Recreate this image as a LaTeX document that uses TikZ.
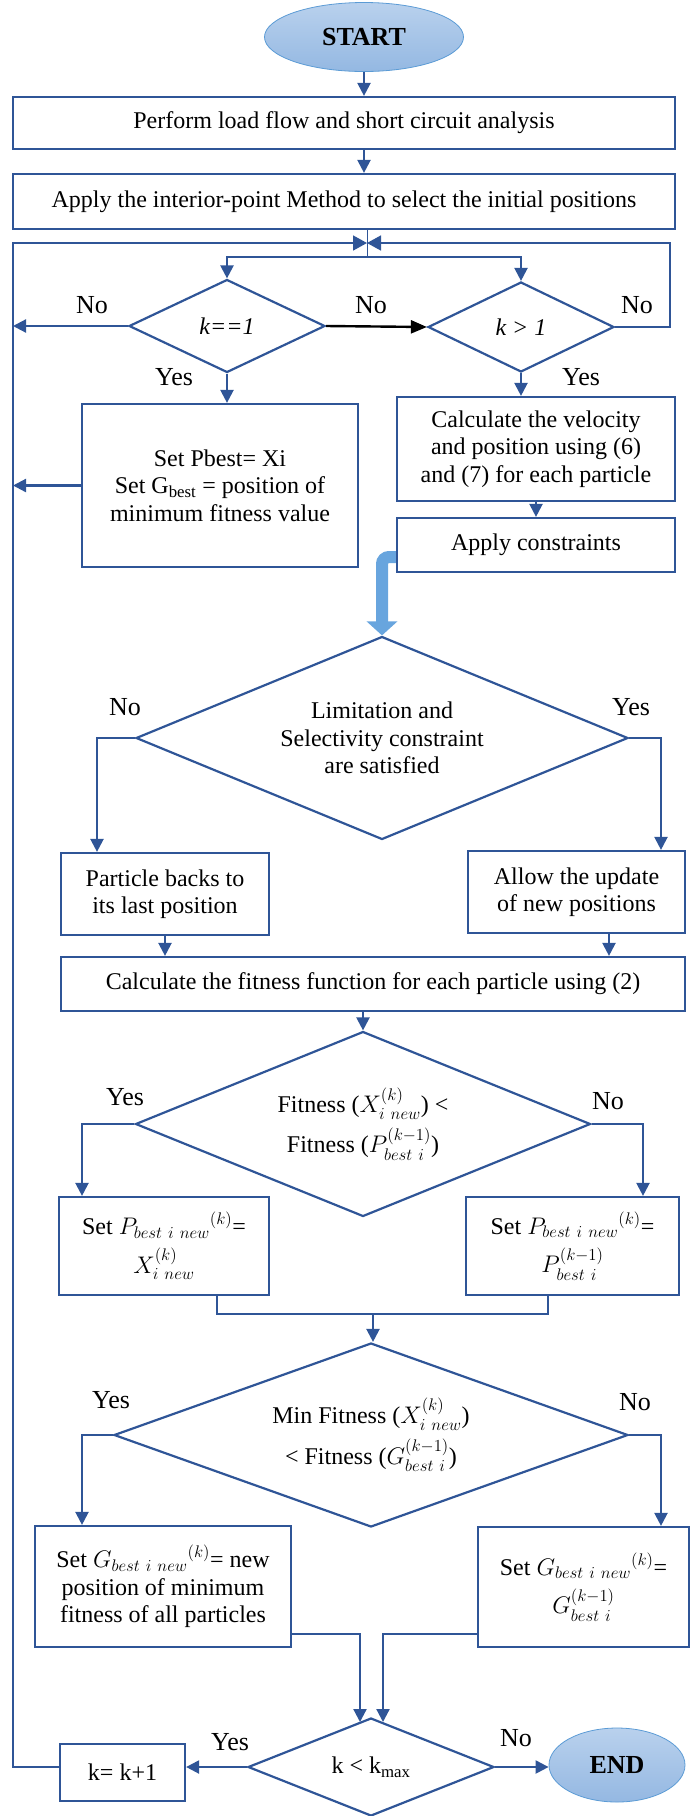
\RequirePackage{fix-cm}
\documentclass[tikz,border=0pt]{standalone}
\usepackage{amsmath}
\usepackage{fontspec}
\setmainfont{Liberation Serif}
\usetikzlibrary{arrows.meta,shapes.geometric}

\definecolor{flowblue}{RGB}{47,85,151}
\definecolor{termedge}{RGB}{91,155,213}
\definecolor{termtop}{RGB}{185,209,237}
\definecolor{termbot}{RGB}{148,184,226}
\definecolor{fatblue}{RGB}{104,165,222}

\newcommand{\txtsize}{\fontsize{24}{27.5}\selectfont}
\newcommand{\lblsize}{\fontsize{26}{28}\selectfont}

\begin{document}
\begin{tikzpicture}[
  x=1pt, y=-1pt,
  box/.style={draw=flowblue, line width=2.2pt, align=center, font=\txtsize, inner sep=2pt},
  term/.style={ellipse, draw=termedge, line width=0.8pt, top color=termtop, bottom color=termbot,
               font=\fontsize{26}{28}\selectfont\bfseries, inner sep=0pt},
  decision/.style={diamond, aspect=2.5, draw=flowblue, line width=2.2pt, align=center,
                   font=\txtsize, inner sep=0pt},
  lbl/.style={font=\lblsize, inner sep=0pt},
  arr/.style={-{Triangle[length=13pt,width=13pt]}, flowblue, line width=2.2pt},
  conn/.style={flowblue, line width=2.2pt},
  looparr/.style={-{Triangle[length=14pt,width=15pt]}, flowblue, line width=1.6pt},
  fat/.style={-{Triangle[length=14pt,width=30pt]}, fatblue, line width=12pt, rounded corners=7pt}
]
  \useasboundingbox (0,0) rectangle (697,1816);

  % Start and initialisation
  \node[term, minimum width=199pt, minimum height=69pt] (start) at (364,37) {START};
  \node[box, minimum width=662pt, minimum height=52pt] (b1) at (344,123)
    {Perform load flow and short circuit analysis};
  \node[box, minimum width=662pt, minimum height=55pt] (b2) at (344,201.5)
    {Apply the interior-point Method to select the initial positions};

  % Iteration test
  \node[decision, minimum width=196pt, minimum height=93pt] (d1) at (227,326) {\textit{k==1}};
  \node[decision, minimum width=186pt, minimum height=90pt] (d2) at (521,327) {\textit{k > 1}};
  \node[box, minimum width=276pt, minimum height=163pt] (bP) at (220,485.5)
    {Set Pbest= Xi\\Set G\textsubscript{best} = position of\\minimum fitness value};
  \node[box, minimum width=278pt, minimum height=104pt] (bV) at (536,449)
    {Calculate the velocity\\and position using (6)\\and (7) for each particle};
  \node[box, minimum width=278pt, minimum height=54pt] (bA) at (536,545) {Apply constraints};

  % Constraint check
  \node[decision, minimum width=492pt, minimum height=203pt] (d3) at (382,738)
    {Limitation and\\Selectivity constraint\\are satisfied};
  \node[box, minimum width=208pt, minimum height=82pt] (bB) at (165,894)
    {Particle backs to\\its last position};
  \node[box, minimum width=217pt, minimum height=82pt] (bU) at (576.5,892)
    {Allow the update\\of new positions};
  \node[box, minimum width=624pt, minimum height=54pt] (bF) at (373,984)
    {Calculate the fitness function for each particle using (2)};

  % Personal best
  \node[decision, minimum width=455pt, minimum height=185pt] (d4) at (363,1124)
    {Fitness ($X_{i\ new}^{(k)}$) <\\[7pt]Fitness ($P_{best\ i}^{(k-1)}$)};
  \node[box, minimum width=210pt, minimum height=98pt] (bPL) at (164,1246)
    {Set ${P_{best\ i\ new}}^{(k)}$=\\[9pt]$X_{i\ new}^{(k)}$};
  \node[box, minimum width=213pt, minimum height=98pt] (bPR) at (572.5,1246)
    {Set ${P_{best\ i\ new}}^{(k)}$=\\[9pt]$P_{best\ i}^{(k-1)}$};

  % Global best
  \node[decision, minimum width=514pt, minimum height=184pt] (d5) at (371,1435)
    {Min Fitness ($X_{i\ new}^{(k)}$)\\[8pt]< Fitness ($G_{best\ i}^{(k-1)}$)};
  \node[box, minimum width=256pt, minimum height=121pt] (bGL) at (163,1586.5)
    {Set ${G_{best\ i\ new}}^{(k)}$= new\\position of minimum\\fitness of all particles};
  \node[box, minimum width=211pt, minimum height=120pt] (bGR) at (583.5,1587)
    {Set ${G_{best\ i\ new}}^{(k)}$=\\[9pt]$G_{best\ i}^{(k-1)}$};

  % Stop test
  \node[decision, minimum width=246pt, minimum height=98pt] (d6) at (371,1767)
    {k < k\textsubscript{max}};
  \node[box, minimum width=125pt, minimum height=57pt] (bK) at (122.5,1772.5) {k= k+1};
  \node[term, minimum width=136pt, minimum height=74pt] (endn) at (617,1765) {END};

  % Labels
  \node[lbl] (noA) at (92,305) {No};
  \node[lbl] (noB) at (371,305) {No};
  \node[lbl] (noC) at (637,305) {No};
  \node[lbl] (yesA) at (174,377) {Yes};
  \node[lbl] (yesB) at (581,377) {Yes};
  \node[lbl] (noD) at (125,707) {No};
  \node[lbl] (yesD) at (631,707) {Yes};
  \node[lbl] (yesE) at (125,1097) {Yes};
  \node[lbl] (noE) at (608,1101) {No};
  \node[lbl] (yesF) at (111,1400) {Yes};
  \node[lbl] (noF) at (635,1402) {No};
  \node[lbl] (yesG) at (230,1742) {Yes};
  \node[lbl] (noG) at (516,1738) {No};

  % Helper points
  \coordinate (split) at (367,257);
  \coordinate (meet) at (367,243);
  \coordinate (railL) at (13,243);
  \coordinate (railR) at (670,243);
  \coordinate (join) at (373,1314);
  \coordinate (inL) at (360,1722);
  \coordinate (inR) at (383,1722);

  % Arrows
  \draw[arr] (start.south) -- (start.south |- b1.north);
  \draw[arr] (start.south |- b1.south) -- (start.south |- b2.north);
  \draw[flowblue, line width=1pt] (b2.south -| split) -- (split);
  \draw[arr] (split) -| (d1.north);
  \draw[arr] (split) -| (d2.north);
  \draw[-{Triangle[length=16pt,width=13pt]}, black, line width=2.4pt] (d1.east) -- (d2.west);
  \draw[arr] (d1.west) -- (d1.west -| railL);
  \draw[arr] (bP.west) -- (bP.west -| railL);
  \draw[looparr] (d2.east) -| (railR) -- (meet);
  \draw[looparr] (bK.west |- d6.west) -| (railL) -- (meet);
  \draw[arr] (d1.south) -- (d1.south |- bP.north);
  \draw[arr] (d2.south) -- (d2.south |- bV.north);
  \draw[arr] (bV.south) -- (bA.north);
  \draw[fat] ([yshift=-12pt]bA.west) -| (d3.north);
  \draw[arr] (d3.west) -| ([xshift=-68pt]bB.north);
  \draw[arr] (d3.east) -| ([xshift=84.5pt]bU.north);
  \draw[arr] (bB.south) -- (bB.south |- bF.north);
  \draw[arr] ([xshift=32.5pt]bU.south) -- ([xshift=32.5pt]bU.south |- bF.north);
  \draw[arr] (d4.north |- bF.south) -- (d4.north);
  \draw[arr] (d4.west) -| ([xshift=-82pt]bPL.north);
  \draw[arr] (d4.east) -| ([xshift=70.5pt]bPR.north);
  \draw[conn] ([xshift=53pt]bPL.south) |- (join) -| ([xshift=-24.5pt]bPR.south);
  \draw[arr] (join) -- (join |- d5.north);
  \draw[arr] (d5.west) -| ([xshift=-81pt]bGL.north);
  \draw[arr] (d5.east) -| ([xshift=77.5pt]bGR.north);
  \draw[arr] ([yshift=-47.5pt]bGL.east) -| (inL);
  \draw[arr] ([yshift=-47pt]bGR.west) -| (inR);
  \draw[arr] (d6.west) -- (d6.west -| bK.east);
  \draw[arr] (d6.east) -- (d6.east -| endn.west);
\end{tikzpicture}
\end{document}
